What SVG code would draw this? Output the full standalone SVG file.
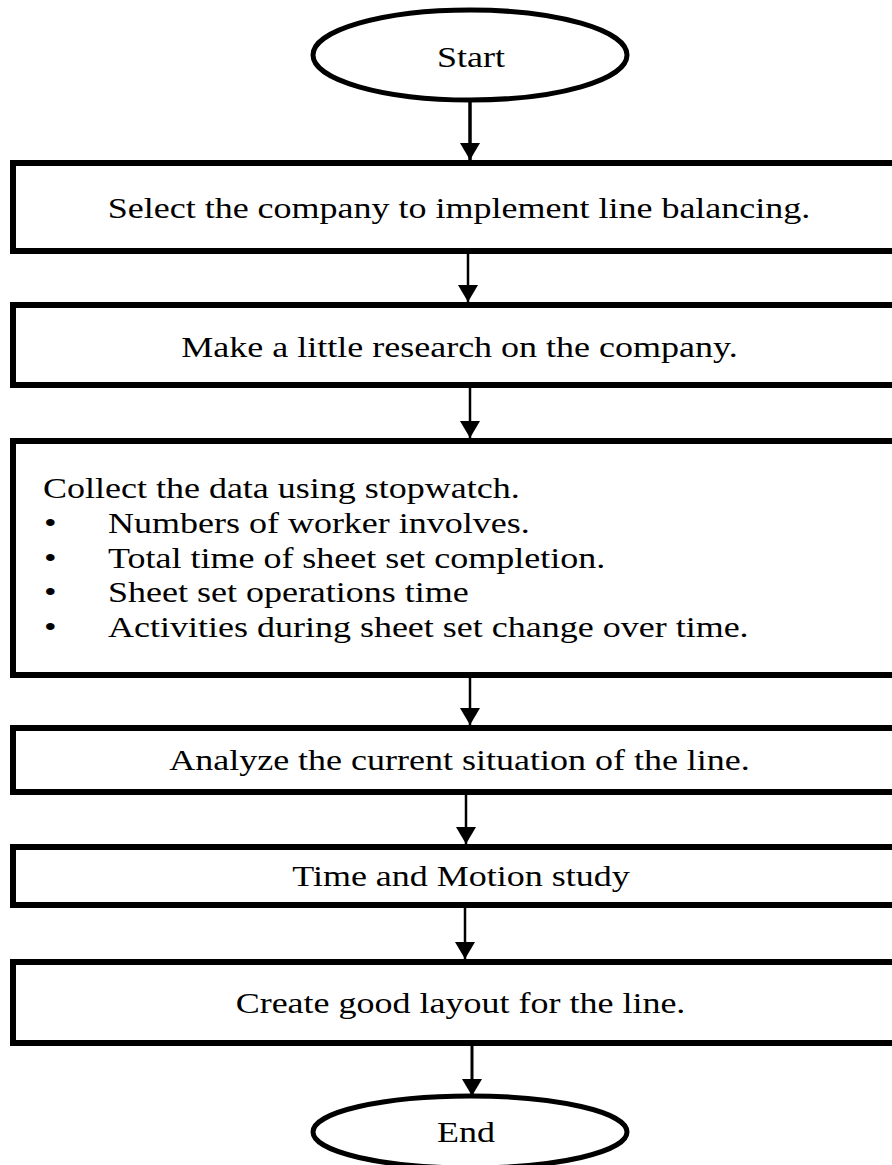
<svg xmlns="http://www.w3.org/2000/svg" width="892" height="1165" viewBox="0 0 892 1165">
  <style>
    .box { fill: #ffffff; stroke: #000000; stroke-width: 6; }
    .term { fill: #ffffff; stroke: #000000; stroke-width: 5; }
    .t { font-family: "Liberation Serif", "Times New Roman", serif; font-size: 30px; fill: #000000; }
    .c { text-anchor: middle; }
    .conn { stroke: #000000; stroke-width: 2.5; fill: none; marker-end: url(#ah); }
  </style>
  <defs>
    <marker id="ah" markerUnits="userSpaceOnUse" markerWidth="20" markerHeight="20" refX="17" refY="10" orient="auto">
      <path d="M0,0 L17,10 L0,20 Z" fill="#000000"/>
    </marker>
  </defs>
  <rect width="892" height="1165" fill="#ffffff"/>

  <g id="connectors">
    <line class="conn" x1="470" y1="100" x2="470" y2="160" style="stroke-width:3.5"/>
    <line class="conn" x1="468" y1="253" x2="468" y2="302"/>
    <line class="conn" x1="470" y1="388" x2="470" y2="438"/>
    <line class="conn" x1="470" y1="678" x2="470" y2="725"/>
    <line class="conn" x1="466" y1="795" x2="466" y2="844"/>
    <line class="conn" x1="465" y1="908" x2="465" y2="959"/>
    <line class="conn" x1="472" y1="1046" x2="472" y2="1096" style="stroke-width:3"/>
  </g>

  <g id="start">
    <ellipse class="term" cx="470" cy="55" rx="157" ry="45"/>
    <text class="t c" transform="translate(471,67) scale(1.2,1)">Start</text>
  </g>

  <g id="select">
    <rect class="box" x="13" y="163" width="894" height="88"/>
    <text class="t c" transform="translate(459,218) scale(1.2,1)">Select the company to implement line balancing.</text>
  </g>

  <g id="research">
    <rect class="box" x="13" y="305" width="894" height="80"/>
    <text class="t c" transform="translate(459.5,357) scale(1.2,1)">Make a little research on the company.</text>
  </g>

  <g id="collect">
    <rect class="box" x="13" y="441" width="894" height="234"/>
    <text class="t" transform="translate(43,498) scale(1.2,1)">Collect the data using stopwatch.</text>
    <text class="t" transform="translate(44,533) scale(1.2,1)">•</text>
    <text class="t" transform="translate(108,533) scale(1.2,1)">Numbers of worker involves.</text>
    <text class="t" transform="translate(44,567.5) scale(1.2,1)">•</text>
    <text class="t" transform="translate(108,567.5) scale(1.2,1)">Total time of sheet set completion.</text>
    <text class="t" transform="translate(44,602) scale(1.2,1)">•</text>
    <text class="t" transform="translate(108,602) scale(1.2,1)">Sheet set operations time</text>
    <text class="t" transform="translate(44,637) scale(1.2,1)">•</text>
    <text class="t" transform="translate(108,637) scale(1.2,1)">Activities during sheet set change over time.</text>
  </g>

  <g id="analyze">
    <rect class="box" x="13" y="728" width="894" height="64"/>
    <text class="t c" transform="translate(459.5,770) scale(1.2,1)">Analyze the current situation of the line.</text>
  </g>

  <g id="timemotion">
    <rect class="box" x="13" y="847" width="894" height="58"/>
    <text class="t c" transform="translate(461,886) scale(1.2,1)">Time and Motion study</text>
  </g>

  <g id="layout">
    <rect class="box" x="13" y="962" width="894" height="81"/>
    <text class="t c" transform="translate(460.5,1013) scale(1.2,1)">Create good layout for the line.</text>
  </g>

  <g id="end">
    <ellipse class="term" cx="470" cy="1132" rx="157" ry="36"/>
    <text class="t c" transform="translate(466,1142) scale(1.2,1)">End</text>
  </g>
</svg>
